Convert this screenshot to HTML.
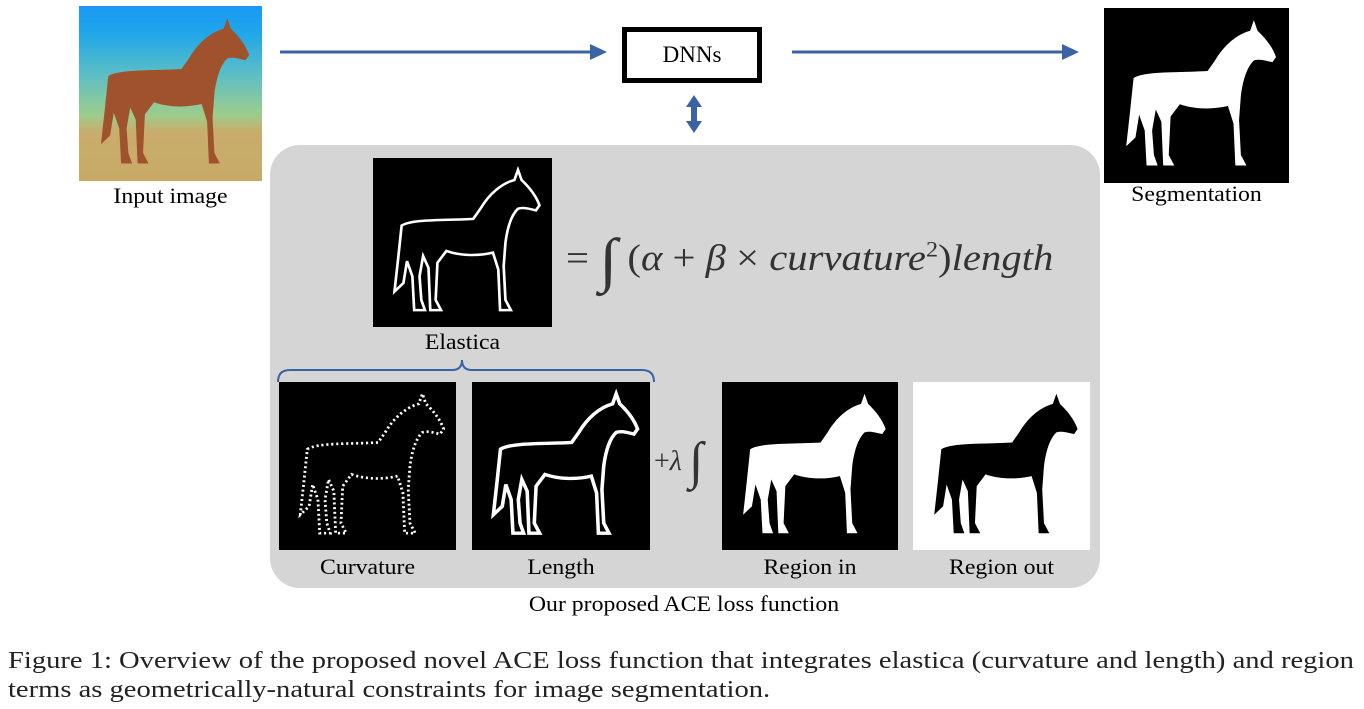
<!DOCTYPE html>
<html><head><meta charset="utf-8"><style>
body{margin:0;width:1364px;height:709px;background:#fff;position:relative;overflow:hidden;font-family:"Liberation Serif",serif;color:#000}
.a{position:absolute}
.lbl{position:absolute;font-size:22px;text-align:center;white-space:nowrap;transform:scaleX(1.08)}
.img{position:absolute;background:#000}
.img svg{width:100%;height:100%;display:block}
</style></head><body>
<svg width="0" height="0" style="position:absolute"><defs>
<path id="h" d="M16,40 C22,36 40,37 56,36 L60,30 C65,21 72,15 79,13 L81,7 L83,13 C87,17 91,22 93,28 L91,31 C87,30 84,29 81,30 C77,34 75,42 74,50 L73,64 L74,84 L77,90 L71,90 L70,66 L67,56 C59,58 49,58 41,55 L36,62 L35,84 L38,90 L32,90 L31,65 L28,58 L26,70 L27,84 L29,90 L23,90 L22,70 L19,61 L17,74 L12,79 L14,60 Z"/>
</defs></svg>

<div class="a" style="left:79px;top:6px;width:183px;height:175px;background:linear-gradient(#1a98f5 0%,#1ea6ea 15%,#5ebfc4 40%,#9ccd8c 62%,#c9ad6c 72%,#c8aa66 100%)">
<svg viewBox="0 0 100 100" preserveAspectRatio="none" width="183" height="175"><use href="#h" fill="#a0522d"/></svg></div>
<div class="lbl" style="left:79px;width:183px;top:183px">Input image</div>

<svg class="a" style="left:0;top:0" width="1364" height="709">
<line x1="280" y1="52" x2="592" y2="52" stroke="#3a63a6" stroke-width="3"/>
<polygon points="590,44 607,52 590,60" fill="#3a63a6"/>
<line x1="792" y1="52" x2="1064" y2="52" stroke="#3a63a6" stroke-width="3"/>
<polygon points="1062,44 1079,52 1062,60" fill="#3a63a6"/>
<polygon points="694,95 702,107 697,107 697,121 702,121 694,133 686,121 691,121 691,107 686,107" fill="#3a63a6"/>
</svg>
<div class="a" style="left:622px;top:27px;width:130px;height:46px;border:5px solid #000;font-size:23px;line-height:46px;text-align:center">DNNs</div>

<div class="img" style="left:1104px;top:8px;width:185px;height:175px"><svg viewBox="0 0 100 100" preserveAspectRatio="none"><use href="#h" fill="#fff"/></svg></div>
<div class="lbl" style="left:1104px;width:185px;top:181px">Segmentation</div>

<div class="a" style="left:270px;top:145px;width:830px;height:443px;background:#d5d5d5;border-radius:30px"></div>

<div class="img" style="left:373px;top:158px;width:179px;height:169px"><svg viewBox="0 0 100 100" preserveAspectRatio="none"><use href="#h" fill="none" stroke="#fff" stroke-width="1.5"/></svg></div>
<div class="lbl" style="left:373px;width:179px;top:329px">Elastica</div>
<div class="a" style="left:566px;top:226px;font-size:37px;color:#333;white-space:nowrap;transform:scaleX(1.1);transform-origin:left">= <span style="font-size:60px;vertical-align:-10px">∫</span> (<i>α</i> + <i>β</i> × <i>curvature</i><sup style="font-size:22px">2</sup>)<i>length</i></div>

<svg class="a" style="left:0;top:0" width="1364" height="709">
<path d="M278,382 Q278,370 290,370 L452,370 Q462,370 462,360 Q462,370 472,370 L642,370 Q654,370 654,382" fill="none" stroke="#3a63a6" stroke-width="2"/>
</svg>

<div class="img" style="left:279px;top:382px;width:177px;height:168px"><svg viewBox="0 0 100 100" preserveAspectRatio="none"><use href="#h" fill="none" stroke="#fff" stroke-width="1.6" stroke-dasharray="1.2 1.6"/></svg></div>
<div class="img" style="left:472px;top:382px;width:178px;height:168px"><svg viewBox="0 0 100 100" preserveAspectRatio="none"><use href="#h" fill="none" stroke="#fff" stroke-width="2"/></svg></div>
<div class="a" style="left:654px;top:432px;font-size:28px;color:#333;white-space:nowrap">+<i>λ</i> <span style="font-size:52px;vertical-align:-8px">∫</span></div>
<div class="img" style="left:722px;top:382px;width:176px;height:168px"><svg viewBox="0 0 100 100" preserveAspectRatio="none"><use href="#h" fill="#fff"/></svg></div>
<div class="img" style="left:913px;top:382px;width:177px;height:168px;background:#fff"><svg viewBox="0 0 100 100" preserveAspectRatio="none"><use href="#h" fill="#000"/></svg></div>

<div class="lbl" style="left:279px;width:177px;top:554px">Curvature</div>
<div class="lbl" style="left:472px;width:178px;top:554px">Length</div>
<div class="lbl" style="left:722px;width:176px;top:554px">Region in</div>
<div class="lbl" style="left:913px;width:177px;top:554px">Region out</div>
<div class="lbl" style="left:384px;width:600px;top:591px">Our proposed ACE loss function</div>

<div class="a" style="left:8px;top:647px;font-size:24px;line-height:29px;color:#222;white-space:nowrap;transform:scaleX(1.19);transform-origin:left">Figure 1: Overview of the proposed novel ACE loss function that integrates elastica (curvature and length) and region<br>terms as geometrically-natural constraints for image segmentation.</div>
</body></html>
